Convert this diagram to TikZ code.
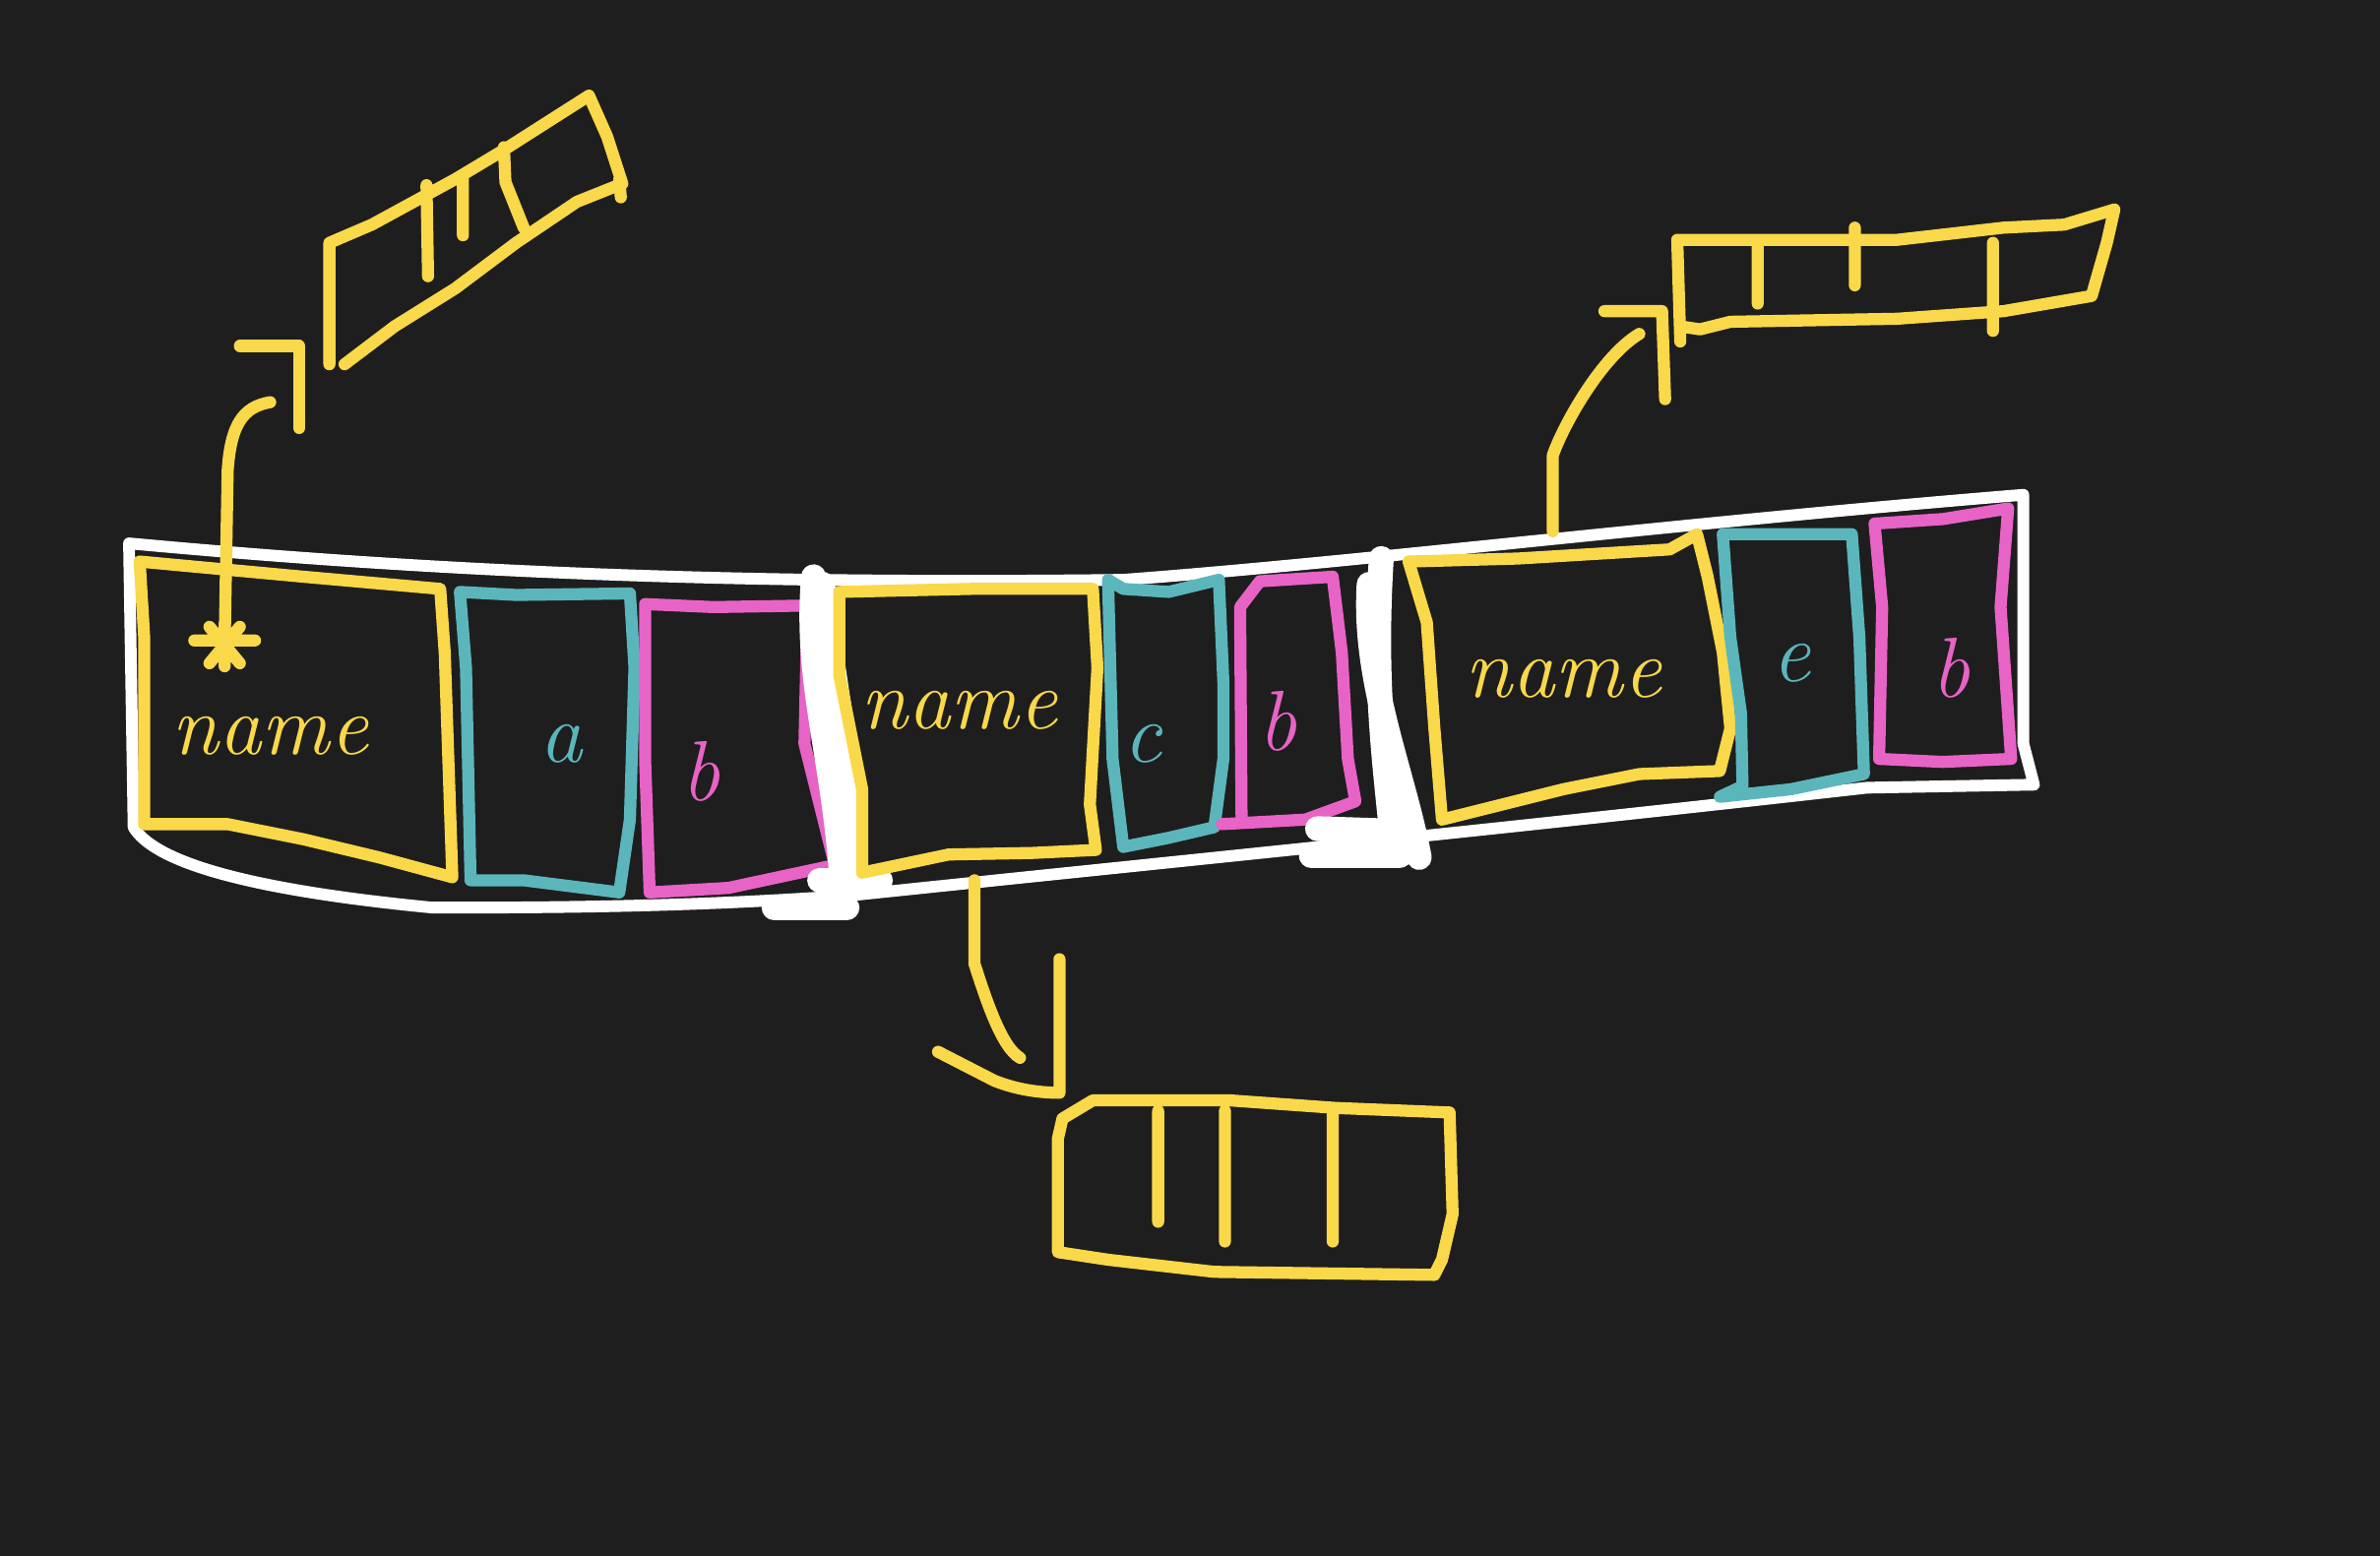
\documentclass[tikz,border=0pt]{standalone}
\usepackage{tikz}
\usetikzlibrary{positioning}
\definecolor{bg}{HTML}{1E1E1E}
\definecolor{yel}{HTML}{F9D84A}
\definecolor{cya}{HTML}{5BB6BC}
\definecolor{pnk}{HTML}{E863C6}

\begin{document}
\begin{tikzpicture}[x=0.15mm,y=-0.15mm,line cap=round,line join=round,
	ystroke/.style={draw=yel,line width=3.4pt},
	cstroke/.style={draw=cya,line width=3.4pt},
	pstroke/.style={draw=pnk,line width=3.4pt},
	band/.style={draw=white,line width=3.3pt},
	smear/.style={draw=white,line width=7pt},
	lbl/.style={font=\itshape\fontsize{24}{24}\selectfont,inner sep=0pt}]
	\fill[bg] (0,0) rectangle (1568,1025);
	\useasboundingbox (0,0) rectangle (1568,1025);

	% outer band
	\draw[band] (85,358) .. controls (300,378) and (500,385) .. (740,382)
		.. controls (900,370) and (1100,345) .. (1333,326) -- (1333,490) -- (1340,517)
		-- (1230,519) .. controls (1000,545) and (800,565) .. (560,590)
		.. controls (450,598) and (350,598) .. (285,598)
		.. controls (150,585) and (100,565) .. (88,545) -- cycle;

	% first record
	\draw[ystroke] (92,370) -- (200,380) -- (290,388) -- (293,430) -- (298,578) -- (250,565)
		-- (200,553) -- (150,543) -- (95,543) -- (95,420) -- cycle;
	\node[lbl,text=yel] (name1) at (178,485) {name};
	\draw[cstroke] (303,390) -- (340,392) -- (415,391) -- (418,440) -- (415,540) -- (408,588)
		-- (345,580) -- (310,580) -- (307,440) -- cycle;
	\node[lbl,text=cya] (a1) at (370,490) {a};
	\draw[pstroke] (425,398) -- (470,400) -- (532,399) -- (530,490) -- (540,530) -- (550,570)
		-- (480,585) -- (428,588) -- (425,500) -- cycle;
	\node[lbl,text=pnk] (b1) at (462,508) {b};

	% separator
	\draw[smear] (536,380) .. controls (530,450) and (550,500) .. (555,585);
	\draw[smear] (542,385) .. controls (548,450) and (565,520) .. (562,575);
	\draw[smear] (510,598) -- (558,598);
	\draw[smear] (540,580) -- (580,580);

	% second record
	\draw[ystroke] (553,390) -- (640,388) -- (720,388) -- (723,440) -- (718,530) -- (722,560)
		-- (680,562) -- (625,563) -- (568,575) -- (568,520) -- (553,445) -- cycle;
	\node[lbl,text=yel] (name2) at (632,468) {name};
	\draw[cstroke] (730,382) -- (740,388) -- (770,390) -- (803,382) -- (806,450) -- (806,500)
		-- (800,545) -- (770,552) -- (740,558) -- (733,500) -- cycle;
	\node[lbl,text=cya] (c2) at (753,490) {c};
	\draw[pstroke] (818,542) -- (817,400) -- (830,383) -- (878,380) -- (884,430) -- (888,500)
		-- (893,528) -- (860,540) -- (805,543);
	\node[lbl,text=pnk] (b2) at (842,475) {b};

	% separator
	\draw[smear] (910,368) .. controls (905,450) and (912,500) .. (918,560);
	\draw[smear] (902,385) .. controls (898,450) and (925,510) .. (935,565);
	\draw[smear] (868,546) -- (930,548);
	\draw[smear] (864,564) -- (922,564);

	% third record
	\draw[ystroke] (928,370) -- (1000,368) -- (1100,362) -- (1118,352) -- (1125,380) -- (1135,430)
		-- (1140,480) -- (1133,508) -- (1080,510) -- (1030,520) -- (990,530) -- (950,540)
		-- (945,480) -- (940,410) -- cycle;
	\node[lbl,text=yel] (name3) at (1030,447) {name};
	\draw[cstroke] (1135,352) -- (1220,352) -- (1225,420) -- (1228,510) -- (1180,520) -- (1133,525)
		-- (1148,518) -- (1147,470) -- (1140,420) -- cycle;
	\node[lbl,text=cya] (e3) at (1180,437) {e};
	\draw[pstroke] (1235,345) -- (1280,342) -- (1323,335) -- (1318,400) -- (1325,500) -- (1280,502)
		-- (1238,500) -- (1240,400) -- cycle;
	\node[lbl,text=pnk] (b3) at (1285,440) {b};

	% pointer targets
	\draw[ystroke] (217,240) -- (217,160) -- (245,148) -- (300,118) -- (330,100) -- (388,63)
		-- (400,90) -- (410,121) (408,118) -- (409,130)
		(410,121) -- (380,133) -- (340,160) -- (300,190) -- (260,215) -- (227,240)
		(281,122) -- (282,182) (305,115) -- (305,155) (332,97) -- (333,120) -- (345,150);
	\draw[ystroke] (1107,225) -- (1105,158) -- (1250,158) -- (1320,150) -- (1360,148) -- (1393,138)
		-- (1388,160) -- (1378,195) -- (1320,205) -- (1250,210) -- (1140,212) -- (1120,217)
		-- (1107,215)
		(1158,158) -- (1158,200) (1222,150) -- (1222,188) (1313,160) -- (1313,218);
	\draw[ystroke] (697,825) -- (697,750) -- (700,737) -- (720,725) -- (810,725) -- (880,730)
		-- (955,733) -- (957,800) -- (950,830) -- (945,840) -- (800,838) -- (730,830) -- cycle
		(763,732) -- (763,805) (807,732) -- (807,818) (878,733) -- (878,818);

	% pointers
	\coordinate (p1) at (148,425);
	\coordinate (p2) at (1023,350);
	\coordinate (p3) at (642,580);
	\draw[ystroke] (p1) ++(-20,-3) -- ++(40,0) (p1) ++(-10,-12) -- ++(20,24)
		(p1) ++(10,-12) -- ++(-20,24) (p1) ++(0,-14) -- ++(0,28);
	\draw[ystroke] (p1) -- (150,310) .. controls (152,280) and (160,268) .. (178,265);
	\draw[ystroke] (158,228) -- (197,228) -- (197,282);
	\draw[ystroke] (p2) -- (1023,300) .. controls (1030,280) and (1055,235) .. (1080,220);
	\draw[ystroke] (1057,205) -- (1095,205) -- (1097,263);
	\draw[ystroke] (p3) -- (642,635) .. controls (650,660) and (660,690) .. (672,697);
	\draw[ystroke] (618,693) -- (655,712) .. controls (670,718) and (685,720) .. (698,720) -- (698,632);
\end{tikzpicture}
\end{document}
